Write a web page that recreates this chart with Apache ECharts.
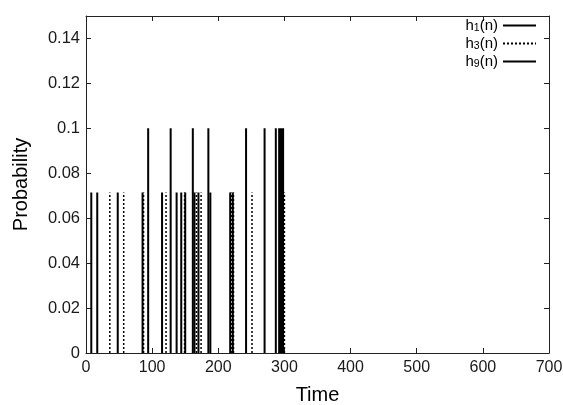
<!DOCTYPE html>
<html>
<head>
<meta charset="utf-8">
<script src="https://cdn.jsdelivr.net/npm/echarts@6/dist/echarts.min.js"></script>
<style>
html,body{margin:0;padding:0;background:#fff;}
#c{width:563px;height:405px;}
</style>
</head>
<body>
<div id="c"></div>
<script>
// ---- data ----
const xTicks = [0, 100, 200, 300, 400, 500, 600, 700];
const yTicks = [0, 0.02, 0.04, 0.06, 0.08, 0.1, 0.12, 0.14];

const h1Time = [8, 17, 48, 85.5, 115, 137, 144, 150, 164, 170, 188, 218, 222, 297];
const h1Prob = [0.0714, 0.0714, 0.0714, 0.0714, 0.0714, 0.0714, 0.0714, 0.0714, 0.0714, 0.0714, 0.0714, 0.0714, 0.0714, 0.0714];

const h3Time = [36, 57, 87, 121, 149, 167, 174, 219.5, 223, 251, 300];
const h3Prob = [0.0714, 0.0714, 0.0714, 0.0714, 0.0714, 0.0714, 0.0714, 0.0714, 0.0714, 0.0714, 0.0714];

const h9Time = [94, 128, 161.5, 185, 242, 270, 287, 292, 295, 298];
const h9Prob = [0.1, 0.1, 0.1, 0.1, 0.1, 0.1, 0.1, 0.1, 0.1, 0.1];

const seriesNames = ['h1', 'h3', 'h9'];
const seriesSubs = {h1: '1', h3: '3', h9: '9'};

// build stick segments (base -> value, then a break)
function sticks(times, probs) {
  const out = [];
  for (let i = 0; i < times.length; i++) {
    out.push([times[i], 0]);
    out.push([times[i], probs[i]]);
    out.push([times[i], '-']);
  }
  return out;
}

const font = 'Liberation Sans, Helvetica, Arial, sans-serif';
const axisColor = '#222';

const chart = echarts.init(document.getElementById('c'), null, {renderer: 'canvas'});
const baseX = {
  type: 'value', min: 0, max: 700, interval: 100,
  splitLine: {show: false},
  axisLine: {show: true, onZero: false, lineStyle: {color: axisColor, width: 1}},
  axisTick: {show: true, inside: true, length: 5, lineStyle: {color: axisColor}}
};
const baseY = {
  type: 'value', min: 0, max: 0.15, interval: 0.02,
  splitLine: {show: false},
  axisLine: {show: true, onZero: false, lineStyle: {color: axisColor, width: 1}},
  axisTick: {show: true, inside: true, length: 5, lineStyle: {color: axisColor}}
};

function lineSeries(name, times, probs, type, width) {
  return {
    name: name, type: 'line', xAxisIndex: 0, yAxisIndex: 0,
    data: sticks(times, probs),
    symbol: 'none', connectNulls: false, animation: false,
    lineStyle: {color: '#000', width: width, type: type},
    itemStyle: {color: '#000'},
    emphasis: {disabled: true}
  };
}

chart.setOption({
  animation: false,
  grid: {left: 86, right: 14, top: 16, bottom: 52, containLabel: false, outerBoundsMode: 'none'},
  xAxis: [
    Object.assign({}, baseX, {
      position: 'bottom',
      axisLabel: {show: true, fontSize: 16, color: '#1a1a1a', fontFamily: font, margin: 7},
      name: 'Time', nameLocation: 'middle', nameGap: 32,
      nameTextStyle: {fontSize: 20, color: '#000', fontFamily: font}
    }),
    Object.assign({}, baseX, {position: 'top', axisLabel: {show: false}})
  ],
  yAxis: [
    Object.assign({}, baseY, {
      position: 'left',
      axisLabel: {show: true, fontSize: 16.5, color: '#1a1a1a', fontFamily: font, margin: 6, showMaxLabel: false},
      name: 'Probability', nameLocation: 'middle', nameGap: 55,
      nameTextStyle: {fontSize: 20, color: '#000', fontFamily: font}
    }),
    Object.assign({}, baseY, {position: 'right', axisLabel: {show: false}})
  ],
  legend: {
    orient: 'vertical', right: 26, top: 18, align: 'right', padding: 0,
    itemWidth: 33, itemHeight: 10, itemGap: 2,
    data: seriesNames,
    itemStyle: {opacity: 0},
    formatter: function (name) { return 'h{s|' + seriesSubs[name] + '}(n)'; },
    textStyle: {
      fontSize: 15, color: '#000', fontFamily: font, lineHeight: 15,
      rich: {s: {fontSize: 10.5, fontFamily: font, color: '#000', padding: [6, 0, 0, 0]}}
    }
  },
  series: [
    lineSeries('h1', h1Time, h1Prob, 'solid', 2),
    lineSeries('h3', h3Time, h3Prob, [2, 2], 1.5),
    lineSeries('h9', h9Time, h9Prob, 'solid', 2)
  ]
});
</script>
</body>
</html>
